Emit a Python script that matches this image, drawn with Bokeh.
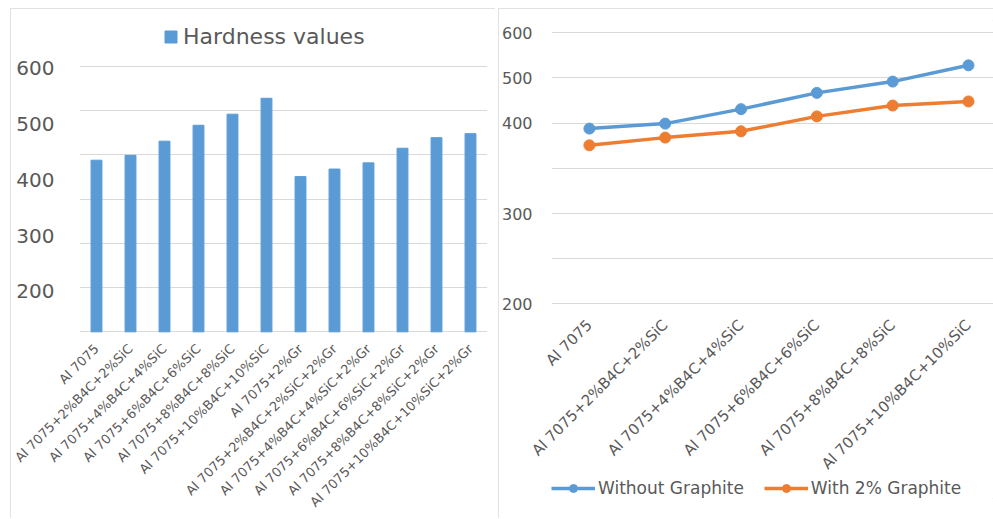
from bokeh.plotting import figure
from bokeh.models import (ColumnDataSource, FactorRange, Range1d, LinearAxis,
                          FixedTicker, Legend, LegendItem, Grid)
from bokeh.layouts import row
from bokeh.embed import file_html
from bokeh.resources import INLINE

FONT = "DejaVu Sans"
TEXT = "#595959"
GRID = "#d9d9d9"
BLUE = "#5B9BD5"
ORANGE = "#ED7D31"

# Hardness of every sample (bar chart)
samples = [
    "Al 7075",
    "Al 7075+2%B4C+2%SiC",
    "Al 7075+4%B4C+4%SiC",
    "Al 7075+6%B4C+6%SiC",
    "Al 7075+8%B4C+8%SiC",
    "Al 7075+10%B4C+10%SiC",
    "Al 7075+2%Gr",
    "Al 7075+2%B4C+2%SiC+2%Gr",
    "Al 7075+4%B4C+4%SiC+2%Gr",
    "Al 7075+6%B4C+6%SiC+2%Gr",
    "Al 7075+8%B4C+8%SiC+2%Gr",
    "Al 7075+10%B4C+10%SiC+2%Gr",
]
hardness = [388, 399, 431, 467, 492, 528, 351, 368, 382, 415, 439, 448]

# Same composites compared with and without graphite (line chart)
composites = samples[:6]
without_graphite = [388, 399, 431, 467, 492, 528]
with_graphite = [351, 368, 382, 415, 439, 448]

grid_values = [0, 100, 200, 300, 400, 500, 600]
left_tick_values = [200, 300, 400, 500, 600]
right_tick_values = [0, 100, 200, 300, 400, 500, 600]
right_tick_labels = ["200", "", "300", "", "400", "500", "600"]

PANEL = {"outline": "1px solid #d9d9d9", "outline-offset": "-1px"}


def style_axis(ax, size):
    ax.axis_line_color = None
    ax.major_tick_line_color = None
    ax.minor_tick_line_color = None
    ax.major_label_text_font = FONT
    ax.major_label_text_font_size = size
    ax.major_label_text_color = TEXT


# Both plot areas run from the legend row down to the chart bottom; the
# category labels are pulled up under the value grid with negative standoffs.

# ---------------- left: bar chart ----------------
bar_src = ColumnDataSource(dict(sample=samples, hardness=hardness))
p1 = figure(width=485, height=510,
            x_range=FactorRange(*samples, range_padding=0),
            y_range=Range1d(-376.7, 703.8), y_axis_location=None,
            output_backend="svg", toolbar_location=None,
            min_border_left=69, min_border_right=8,
            min_border_top=12, min_border_bottom=13,
            outline_line_color=None, styles=PANEL)
p1.xgrid.visible = False
p1.ygrid.visible = False
p1.add_layout(Grid(dimension=1, ticker=FixedTicker(ticks=grid_values),
                   grid_line_color=GRID, grid_line_width=1), "center")

bars = p1.vbar(x="sample", top="hardness", bottom=0, width=0.32,
               source=bar_src, fill_color=BLUE, line_color=BLUE)

p1.extra_y_ranges = {"lbl": Range1d(-170.5, 684.8)}
yax1 = LinearAxis(y_range_name="lbl", ticker=FixedTicker(ticks=left_tick_values),
                  major_label_standoff=19)
style_axis(yax1, "20px")
p1.add_layout(yax1, "left")

style_axis(p1.xaxis[0], "13px")
p1.xaxis.major_label_orientation = 0.785
p1.xaxis.major_label_standoff = -158

leg1 = Legend(items=[LegendItem(label="Hardness values", renderers=[bars])],
              location=(84, 449), orientation="horizontal",
              border_line_color=None, background_fill_alpha=0,
              padding=0, margin=0, glyph_width=15, glyph_height=15,
              label_standoff=5, label_text_font=FONT,
              label_text_font_size="22px", label_text_color=TEXT)
p1.add_layout(leg1)

# ---------------- right: line chart ----------------
xpos = [i + 0.5 for i in range(len(composites))]
line_src = ColumnDataSource(dict(x=xpos, without=without_graphite, withgr=with_graphite))

p2 = figure(width=495, height=510,
            x_range=Range1d(0, 5.83), y_range=Range1d(-430.7, 627.2),
            output_backend="svg", toolbar_location=None,
            min_border_left=53, min_border_right=0,
            min_border_top=12, min_border_bottom=13,
            outline_line_color=None, styles=PANEL)
p2.xgrid.visible = False
p2.ygrid.ticker = FixedTicker(ticks=grid_values)
p2.ygrid.grid_line_color = GRID

l1 = p2.line("x", "without", source=line_src, line_color=BLUE, line_width=3.5)
s1 = p2.scatter("x", "without", source=line_src, size=11, fill_color=BLUE, line_color=BLUE)
l2 = p2.line("x", "withgr", source=line_src, line_color=ORANGE, line_width=3.5)
s2 = p2.scatter("x", "withgr", source=line_src, size=11, fill_color=ORANGE, line_color=ORANGE)

style_axis(p2.yaxis[0], "16px")
p2.yaxis.ticker = FixedTicker(ticks=right_tick_values)
p2.yaxis.major_label_overrides = dict(zip(right_tick_values, right_tick_labels))
p2.yaxis.major_label_standoff = 13

style_axis(p2.xaxis[0], "15px")
p2.xaxis.ticker = FixedTicker(ticks=xpos)
p2.xaxis.major_label_overrides = dict(zip(xpos, composites))
p2.xaxis.major_label_orientation = 0.785
p2.xaxis.major_label_standoff = -182

leg2 = Legend(items=[LegendItem(label="Without Graphite", renderers=[l1, s1]),
                     LegendItem(label="With 2% Graphite", renderers=[l2, s2])],
              location=(0, 0), orientation="horizontal",
              border_line_color=None, background_fill_alpha=0,
              padding=0, margin=0, spacing=20, glyph_width=44, glyph_height=20,
              label_standoff=3, label_text_font=FONT,
              label_text_font_size="17px", label_text_color=TEXT)
p2.add_layout(leg2)

p1.margin = (8, 0, 0, 10)
p2.margin = (8, 0, 0, 3)
layout = row(p1, p2)

open("out.html", "w").write(file_html(layout, INLINE))
